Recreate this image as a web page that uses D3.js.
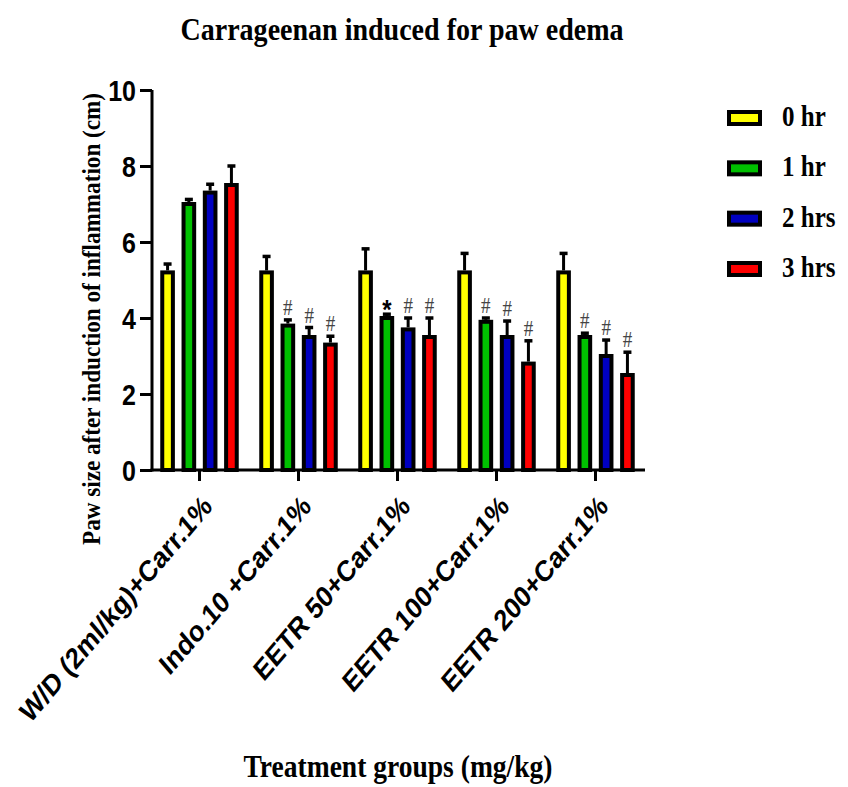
<!DOCTYPE html>
<html>
<head>
<meta charset="utf-8">
<script src="https://cdn.jsdelivr.net/npm/d3@7"></script>
<style>
body { margin: 0; background: #fff; }
svg { display: block; }
</style>
</head>
<body>
<svg width="848" height="787"></svg>
<script>
// data
var groups = ["W/D (2ml/kg)+Carr.1%", "Indo.10 +Carr.1%", "EETR 50+Carr.1%", "EETR 100+Carr.1%", "EETR 200+Carr.1%"];
var series = ["0 hr", "1 hr", "2 hrs", "3 hrs"];
var colors = ["#ffff00", "#00c000", "#0000c0", "#ff0000"];

var hr0 = [5.2, 5.2, 5.2, 5.2, 5.2];
var hr1 = [7.0, 3.8, 4.0, 3.9, 3.5];
var hr2 = [7.3, 3.5, 3.7, 3.5, 3.0];
var hr3 = [7.5, 3.3, 3.5, 2.8, 2.5];

var hr0Err = [0.22, 0.42, 0.62, 0.5, 0.5];
var hr1Err = [0.12, 0.15, 0.1, 0.1, 0.1];
var hr2Err = [0.22, 0.25, 0.3, 0.42, 0.42];
var hr3Err = [0.5, 0.22, 0.5, 0.6, 0.6];

// significance marks per series
var hr0Sig = ["", "", "", "", ""];
var hr1Sig = ["", "#", "*", "#", "#"];
var hr2Sig = ["", "#", "#", "#", "#"];
var hr3Sig = ["", "#", "#", "#", "#"];

var yTicks = [0, 2, 4, 6, 8, 10];

var values = [hr0, hr1, hr2, hr3];
var errors = [hr0Err, hr1Err, hr2Err, hr3Err];
var sigs = [hr0Sig, hr1Sig, hr2Sig, hr3Sig];

var data = [];
groups.forEach(function(g, gi) {
    series.forEach(function(s, si) {
        data.push({group: g, series: s, value: values[si][gi], err: errors[si][gi], sig: sigs[si][gi], color: colors[si]});
    });
});

var svg = d3.select('svg');
var serif = "'Liberation Serif', 'Times New Roman', serif";
var sans = "'Liberation Sans', Arial, sans-serif";
var stretch = 1.18; // the original text looks vertically stretched

//Escalas
var x0 = d3.scaleBand().domain(groups).range([150, 645]).paddingInner(0.14).paddingOuter(0.07);
var x1 = d3.scaleBand().domain(series).range([0, x0.bandwidth()]).paddingInner(0.5).paddingOuter(0.25);
var yScale = d3.scaleLinear().domain([0, 10]).range([470, 90]);

function cx(d) { return x0(d.group) + x1(d.series) + x1.bandwidth() / 2; }

// bars
var bars = svg.append('g');
bars.selectAll('rect')
    .data(data)
    .enter()
    .append('rect')
    .attr('x', d => x0(d.group) + x1(d.series))
    .attr('y', d => yScale(d.value))
    .attr('width', x1.bandwidth())
    .attr('height', d => yScale(0) - yScale(d.value))
    .attr('fill', d => d.color)
    .attr('stroke', '#000')
    .attr('stroke-width', 4);

// error bars (upper only)
var errs = svg.append('g').attr('stroke', '#000');
errs.selectAll('line.v')
    .data(data)
    .enter()
    .append('line')
    .attr('class', 'v')
    .attr('x1', cx)
    .attr('x2', cx)
    .attr('y1', d => yScale(d.value) - 2)
    .attr('y2', d => yScale(d.value + d.err))
    .attr('stroke-width', 3);
errs.selectAll('line.cap')
    .data(data)
    .enter()
    .append('line')
    .attr('class', 'cap')
    .attr('x1', d => cx(d) - 4)
    .attr('x2', d => cx(d) + 4)
    .attr('y1', d => yScale(d.value + d.err))
    .attr('y2', d => yScale(d.value + d.err))
    .attr('stroke-width', 3.5);

// significance marks
svg.append('g')
    .selectAll('text')
    .data(data.filter(d => d.sig != ""))
    .enter()
    .append('text')
    .attr('transform', d => 'translate(' + cx(d) + ',' + (yScale(d.value + d.err) - (d.sig == "*" ? -5 : 5)) + ') scale(1,' + stretch + ')')
    .attr('text-anchor', 'middle')
    .style('font-family', d => d.sig == "*" ? sans : serif)
    .style('font-size', d => d.sig == "*" ? '24px' : '19px')
    .style('font-weight', d => d.sig == "*" ? 'bold' : 'normal')
    .attr('fill', d => d.sig == "*" ? '#000' : '#444')
    .text(d => d.sig);

// axes
var yAxis = d3.axisLeft(yScale).tickValues(yTicks).tickSize(12).tickPadding(4).tickSizeOuter(0);
var yAxisGroup = svg.append('g')
    .attr('transform', 'translate(152,0)')
    .call(yAxis);
yAxisGroup.select('.domain').attr('stroke-width', 3).attr('d', 'M0,' + (yScale(0) + 1.5) + 'V' + yScale(10));
yAxisGroup.selectAll('.tick line').attr('stroke-width', 3);
yAxisGroup.selectAll('text')
    .style('font-family', sans)
    .style('font-size', '25px')
    .style('font-weight', 'bold')
    .attr('x', null)
    .attr('dy', '0.36em')
    .attr('transform', 'translate(-16,0) scale(1,' + stretch + ')');

var xAxis = d3.axisBottom(x0).tickSize(11).tickSizeOuter(0).tickFormat('');
var xAxisGroup = svg.append('g')
    .attr('transform', 'translate(0,' + yScale(0) + ')')
    .call(xAxis);
xAxisGroup.select('.domain').attr('stroke-width', 3).attr('d', 'M150.5,0H645');
xAxisGroup.selectAll('.tick line').attr('stroke-width', 3);

// rotated group labels
svg.append('g')
    .selectAll('text')
    .data(groups)
    .enter()
    .append('text')
    .attr('transform', d => 'translate(' + (x0(d) + x0.bandwidth() / 2 + 14) + ',' + 508 + ') scale(1,' + stretch + ') rotate(-45)')
    .attr('text-anchor', 'end')
    .style('font-family', sans)
    .style('font-size', '25px')
    .style('font-weight', 'bold')
    .text(d => d);

// titles
svg.append('text')
    .attr('transform', 'translate(402,40) scale(1,1.1)')
    .attr('text-anchor', 'middle')
    .attr('textLength', 443).attr('lengthAdjust', 'spacingAndGlyphs')
    .style('font-family', serif).style('font-size', '28px').style('font-weight', 'bold')
    .text('Carrageenan induced for paw edema');

svg.append('text')
    .attr('transform', 'translate(398,777) scale(1,1.1)')
    .attr('text-anchor', 'middle')
    .attr('textLength', 309).attr('lengthAdjust', 'spacingAndGlyphs')
    .style('font-family', serif).style('font-size', '28px').style('font-weight', 'bold')
    .text('Treatment groups (mg/kg)');

svg.append('text')
    .attr('transform', 'translate(100,319) rotate(-90)')
    .attr('text-anchor', 'middle')
    .attr('textLength', 452).attr('lengthAdjust', 'spacingAndGlyphs')
    .style('font-family', serif).style('font-size', '25px').style('font-weight', 'bold')
    .text('Paw size after induction of inflammation (cm)');

// legend
var legendY = d3.scalePoint().domain(series).range([118, 269]);
var legend = svg.append('g')
    .selectAll('g')
    .data(series)
    .enter()
    .append('g')
    .attr('transform', d => 'translate(729,' + legendY(d) + ')');
legend.append('rect')
    .attr('x', 0).attr('y', -6)
    .attr('width', 31).attr('height', 12)
    .attr('fill', (d, i) => colors[i])
    .attr('stroke', '#000')
    .attr('stroke-width', 4);
legend.append('text')
    .attr('transform', 'translate(53,8) scale(1,' + stretch + ')')
    .style('font-family', serif).style('font-size', '25px').style('font-weight', 'bold')
    .text(d => d);
</script>
</body>
</html>
